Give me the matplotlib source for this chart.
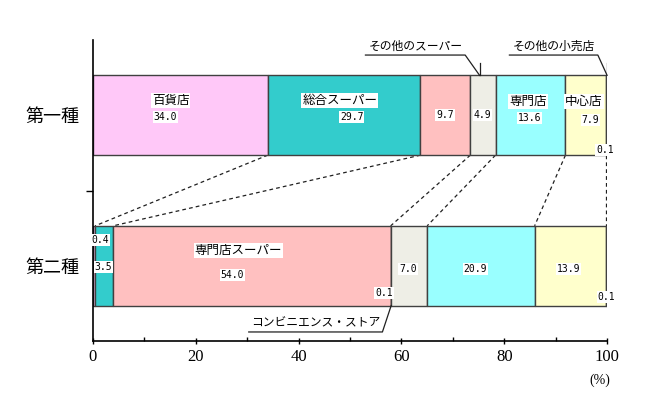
import matplotlib
matplotlib.use("Agg")
import matplotlib.pyplot as plt
import numpy as np

plt.rcParams['font.family'] = ['Noto Sans CJK JP', 'DejaVu Sans']

# データ (%)
categories = ["第二種", "第一種"]
names_1 = ["百貨店", "総合スーパー", "専門店スーパー", "その他のスーパー", "専門店", "中心店", "その他の小売店"]
vals_1 = [34.0, 29.7, 9.7, 4.9, 13.6, 7.9, 0.1]
names_2 = ["百貨店", "総合スーパー", "専門店スーパー", "コンビニエンス・ストア", "その他のスーパー", "専門店", "中心店", "その他の小売店"]
vals_2 = [0.4, 3.5, 54.0, 0.1, 7.0, 20.9, 13.9, 0.1]
xticks = [0, 20, 40, 60, 80, 100]

COL = {"百貨店": "#FFC8F8", "総合スーパー": "#33CCCC", "専門店スーパー": "#FFC0C0",
       "コンビニエンス・ストア": "#FFFFFF", "その他のスーパー": "#EEEEE6", "専門店": "#99FFFF",
       "中心店": "#FFFFCC", "その他の小売店": "#999999"}
EDGE = "#404040"
H = 0.53
Y1, Y2 = 1.5, 0.5
NUMF = ["DejaVu Sans Mono"]

fig = plt.figure(figsize=(6.5, 4.0), dpi=100)
ax = fig.add_axes([0.143, 0.1475, 0.791, 0.7525])


def stack(vals, names, y):
    left = 0.0
    ends = []
    for v, n in zip(vals, names):
        ax.barh(y, v, left=left, height=H, color=COL[n], edgecolor=EDGE, lw=1.0, zorder=2)
        left += v
        ends.append(left)
    return ends


e1 = stack(vals_1, names_1, Y1)
e2 = stack(vals_2, names_2, Y2)
s1 = [e - v for e, v in zip(e1, vals_1)]
s2 = [e - v for e, v in zip(e2, vals_2)]

# 点線の対応線
pairs = [(0, 0), (1, 1), (2, 2), (3, 4), (4, 5), (5, 6)]
for i, j in pairs:
    ax.plot([e1[i], e2[j]], [Y1 - H / 2, Y2 + H / 2], ls=(0, (3, 2.5)), color="#202020", lw=0.9, zorder=1)

box = dict(facecolor="white", edgecolor="none", pad=0.6)
def lab(x, y, s, num=True):
    if num:
        ax.text(x, y, s, ha="center", va="center", fontsize=7, family=NUMF, bbox=box, zorder=5)
    else:
        ax.text(x, y, s, ha="center", va="center", fontsize=9, bbox=box, zorder=5)

# 第一種 ラベル
lab(s1[0] + 15.1, Y1 + 0.10, "百貨店", False)
lab(s1[0] + 14.1, Y1 - 0.01, "34.0")
lab(s1[1] + 14.0, Y1 + 0.10, "総合スーパー", False)
lab(s1[1] + 16.3, Y1 - 0.01, "29.7")
lab(s1[2] + 4.8, Y1 - 0.0, "9.7")
lab(s1[3] + 2.4, Y1 - 0.0, "4.9")
lab(s1[4] + 6.3, Y1 + 0.09, "専門店", False)
lab(s1[4] + 6.6, Y1 - 0.02, "13.6")
lab(s1[5] + 3.6, Y1 + 0.09, "中心店", False)
lab(s1[5] + 4.9, Y1 - 0.03, "7.9")
lab(e1[6] - 0.3, Y1 - 0.23, "0.1")

# 第二種 ラベル
lab(s2[0] + 1.5, Y2 + 0.17, "0.4")
lab(s2[1] + 1.6, Y2 - 0.01, "3.5")
lab(s2[2] + 24.4, Y2 + 0.10, "専門店スーパー", False)
lab(s2[2] + 23.2, Y2 - 0.06, "54.0")
lab(e2[3] - 1.4, Y2 - 0.18, "0.1")
lab(s2[4] + 3.3, Y2 - 0.02, "7.0")
lab(s2[5] + 9.4, Y2 - 0.02, "20.9")
lab(s2[6] + 6.6, Y2 - 0.02, "13.9")
lab(e2[7], Y2 - 0.21, "0.1")

# 引き出し線
def callout(x0, x1, y_text, x_bar, y_bar, s):
    ax.text((x0 + x1) / 2, y_text + 0.015, s, ha="center", va="bottom", fontsize=8.5, zorder=5)
    ax.plot([x0, x1, x_bar], [y_text, y_text, y_bar], color="#202020", lw=0.9, zorder=5, clip_on=False)

callout(53.0, 72.4, 1.90, s1[3] + 1.8, Y1 + H / 2, names_1[3])
ax.plot([s1[3] + 1.8] * 2, [Y1 + H / 2 + 0.08, Y1 + H / 2], color="#202020", lw=0.9, zorder=5)
callout(81.0, 98.2, 1.90, 100.0, Y1 + H / 2, names_1[6])
ax.plot([100.0] * 2, [Y1 + H / 2 + 0.08, Y1 + H / 2], color="#202020", lw=0.9, zorder=5)
callout(30.3, 56.3, 0.06, e2[3], Y2 - H / 2, names_2[3])

ax.set_xlim(0, 100)
ax.set_ylim(0, 2)
ax.set_xticks(xticks)
ax.set_xticklabels([str(t) for t in xticks], fontsize=12, family=["Liberation Serif"])
ax.set_xticks(np.arange(10, 100, 20), minor=True)
ax.tick_params(axis="x", which="major", length=5, width=1, direction="inout", pad=3)
ax.tick_params(axis="x", which="minor", length=3, width=1, direction="in")
ax.set_yticks([Y2, Y1])
ax.set_yticklabels(categories, fontsize=13)
ax.set_yticks([1.0], minor=True)
ax.tick_params(axis="y", which="major", length=0, pad=10)
ax.tick_params(axis="y", which="minor", length=5, width=1, direction="out")
for sp in ["top", "right"]:
    ax.spines[sp].set_visible(False)
ax.spines["left"].set_linewidth(1.2)
ax.spines["bottom"].set_linewidth(1.2)
ax.text(98.6, -0.26, "(%)", ha="center", va="center", fontsize=10, family=["Liberation Serif"])

fig.savefig("out.png", dpi=100)
